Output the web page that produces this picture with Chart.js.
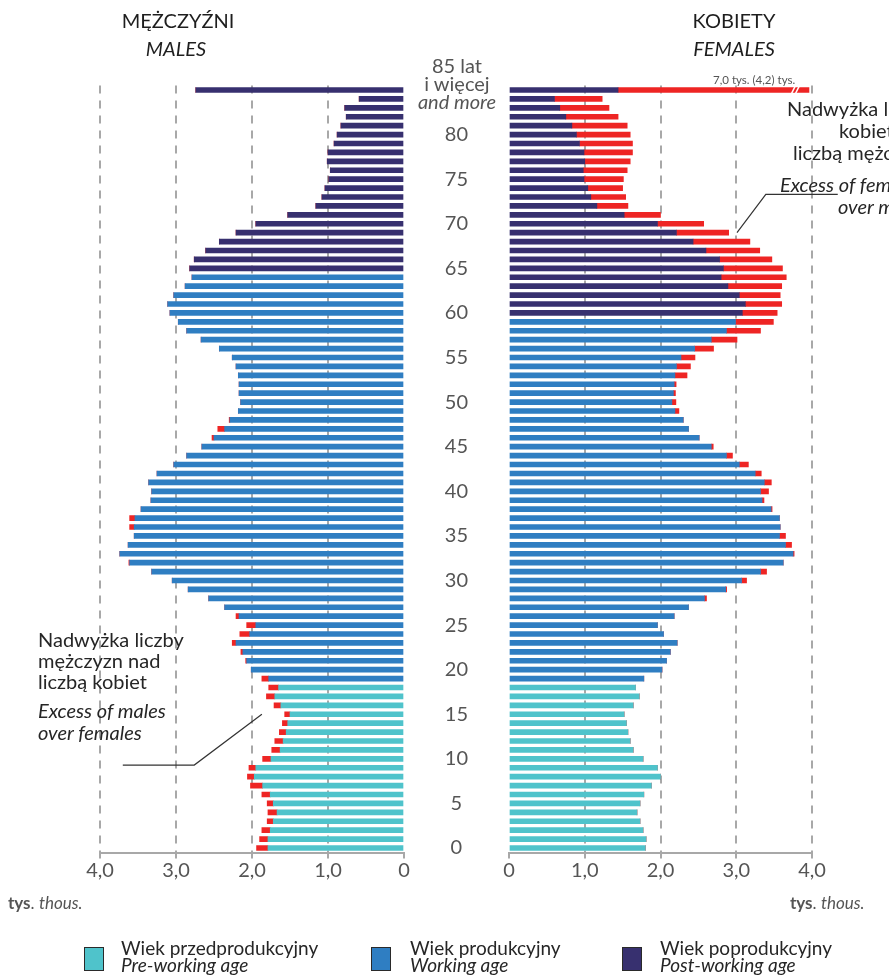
<!DOCTYPE html>
<html>
<head>
<meta charset="utf-8">
<script src="https://cdn.jsdelivr.net/npm/chart.js@4.4.1/dist/chart.umd.min.js"></script>
<style>
  body { margin: 0; background: #fff; font-family: Lato, sans-serif; color: #222; }
  #wrap { position: relative; width: 889px; height: 976px; overflow: hidden; background: #fff; }
  canvas { position: absolute; left: 0; top: 0; }
  .t { position: absolute; white-space: nowrap; }
  .title { width: 200px; text-align: center; font-size: 20px; line-height: 24px; color: #1e1e1e; }
  .note { font-size: 20px; line-height: 22px; color: #262626; }
  .age { width: 100px; text-align: center; font-size: 20px; line-height: 18px; color: #555; }
  .unit { font-size: 17px; line-height: 20px; color: #555; }
  .leg { font-size: 19px; line-height: 17px; color: #262626; }
  .sw { position: absolute; width: 18px; height: 22px; border: 1.5px solid #2a2a2a; }
</style>
</head>
<body>
<div id="wrap">
  <canvas id="males" width="889" height="976"></canvas>
  <canvas id="females" width="889" height="976"></canvas>

  <div class="t title" style="left:78px;top:8px">MĘŻCZYŹNI</div>
  <div class="t title" style="left:76px;top:36px"><i>MALES</i></div>
  <div class="t title" style="left:634px;top:8px">KOBIETY</div>
  <div class="t title" style="left:634px;top:36px"><i>FEMALES</i></div>

  <div class="t age" style="left:407px;top:56px">85 lat</div>
  <div class="t age" style="left:407px;top:74px">i więcej</div>
  <div class="t age" style="left:407px;top:92px"><i>and more</i></div>

  <div class="t" style="left:713px;top:73px;font-size:11.5px;color:#555">7,0 tys. (4,2) tys.</div>

  <div class="t note" style="left:787px;top:97px">Nadwyżka liczby</div>
  <div class="t note" style="left:839px;top:119px">kobiet nad</div>
  <div class="t note" style="left:793px;top:141px">liczbą mężczyzn</div>
  <div class="t note" style="left:780px;top:173px"><i>Excess of females</i></div>
  <div class="t note" style="left:838px;top:195px"><i>over males</i></div>

  <div class="t note" style="left:38px;top:628px">Nadwyżka liczby</div>
  <div class="t note" style="left:38px;top:649px">mężczyzn nad</div>
  <div class="t note" style="left:38px;top:670px">liczbą kobiet</div>
  <div class="t note" style="left:38px;top:699px"><i>Excess of males</i></div>
  <div class="t note" style="left:38px;top:721px"><i>over females</i></div>

  <div class="t unit" style="left:8px;top:893px"><b>tys</b>. <i>thous.</i></div>
  <div class="t unit" style="left:790px;top:893px"><b>tys</b>. <i>thous.</i></div>

  <div class="sw" style="left:84px;top:947px;background:#4fc3cb"></div>
  <div class="t leg" style="left:121px;top:939px">Wiek przedprodukcyjny<br><i>Pre-working age</i></div>
  <div class="sw" style="left:371px;top:947px;background:#2f7ec2"></div>
  <div class="t leg" style="left:410px;top:939px">Wiek produkcyjny<br><i>Working age</i></div>
  <div class="sw" style="left:622px;top:947px;background:#37306f"></div>
  <div class="t leg" style="left:660px;top:939px">Wiek poprodukcyjny<br><i>Post-working age</i></div>
</div>

<script>
// ages 0 .. 85 (85 = 85 and more), values in thousands
var ages = [0, 1, 2, 3, 4, 5, 6, 7, 8, 9, 10, 11, 12, 13, 14, 15, 16, 17, 18, 19,
  20, 21, 22, 23, 24, 25, 26, 27, 28, 29, 30, 31, 32, 33, 34, 35, 36, 37, 38, 39,
  40, 41, 42, 43, 44, 45, 46, 47, 48, 49, 50, 51, 52, 53, 54, 55, 56, 57, 58, 59,
  60, 61, 62, 63, 64, 65, 66, 67, 68, 69, 70, 71, 72, 73, 74, 75, 76, 77, 78, 79,
  80, 81, 82, 83, 84, 85];

var maleBase = [1.79, 1.79, 1.76, 1.72, 1.67, 1.72, 1.76, 1.86, 1.97, 1.95,
  1.75, 1.63, 1.59, 1.55, 1.53, 1.50, 1.62, 1.70, 1.65, 1.78,
  2.01, 2.07, 2.12, 2.21, 2.03, 1.95, 2.17, 2.36, 2.57, 2.84,
  3.05, 3.32, 3.61, 3.74, 3.63, 3.55, 3.55, 3.54, 3.46, 3.33,
  3.32, 3.36, 3.25, 3.03, 2.86, 2.66, 2.50, 2.36, 2.29, 2.18,
  2.15, 2.17, 2.17, 2.18, 2.21, 2.26, 2.43, 2.67, 2.86, 2.97,
  3.08, 3.11, 3.03, 2.88, 2.79, 2.82, 2.76, 2.61, 2.43, 2.21,
  1.95, 1.53, 1.16, 1.08, 1.04, 0.99, 0.97, 1.01, 1.00, 0.92,
  0.88, 0.83, 0.76, 0.78, 0.59, 2.74];

var maleExcess = [0.15, 0.11, 0.11, 0.08, 0.12, 0.08, 0.11, 0.16, 0.09, 0.09,
  0.11, 0.11, 0.11, 0.09, 0.07, 0.07, 0.09, 0.11, 0.13, 0.09,
  0, 0.013, 0.026, 0.05, 0.13, 0.12, 0.04, 0, 0, 0,
  0, 0, 0.01, 0, 0, 0, 0.06, 0.07, 0, 0,
  0, 0, 0, 0, 0, 0, 0.026, 0.09, 0.01, 0,
  0, 0, 0, 0, 0, 0, 0, 0, 0, 0,
  0, 0, 0, 0, 0, 0, 0, 0, 0, 0,
  0, 0, 0, 0, 0, 0, 0, 0, 0, 0,
  0, 0, 0, 0, 0, 0];

var femaleBase = [1.80, 1.81, 1.77, 1.73, 1.69, 1.73, 1.78, 1.88, 2.00, 1.96,
  1.77, 1.64, 1.60, 1.57, 1.55, 1.52, 1.64, 1.72, 1.67, 1.78,
  2.02, 2.08, 2.13, 2.22, 2.04, 1.96, 2.18, 2.37, 2.58, 2.86,
  3.07, 3.32, 3.62, 3.75, 3.65, 3.57, 3.58, 3.57, 3.46, 3.34,
  3.32, 3.37, 3.25, 3.04, 2.87, 2.67, 2.51, 2.37, 2.30, 2.19,
  2.15, 2.17, 2.18, 2.19, 2.21, 2.27, 2.45, 2.67, 2.87, 2.99,
  3.08, 3.12, 3.04, 2.89, 2.80, 2.83, 2.78, 2.60, 2.43, 2.21,
  1.96, 1.52, 1.16, 1.08, 1.04, 0.99, 0.98, 1.00, 0.99, 0.93,
  0.89, 0.83, 0.75, 0.67, 0.60, 1.44];

var femaleExcess = [0, 0, 0, 0, 0, 0, 0, 0, 0, 0,
  0, 0, 0, 0, 0, 0, 0, 0, 0, 0,
  0, 0, 0, 0, 0, 0, 0, 0, 0.027, 0.013,
  0.066, 0.08, 0, 0.014, 0.08, 0.08, 0, 0, 0.013, 0.026,
  0.106, 0.093, 0.08, 0.12, 0.08, 0.026, 0, 0, 0, 0.053,
  0.053, 0.027, 0.026, 0.16, 0.185, 0.185, 0.25, 0.34, 0.45, 0.50,
  0.46, 0.48, 0.54, 0.71, 0.86, 0.78, 0.69, 0.71, 0.75, 0.69,
  0.61, 0.48, 0.41, 0.46, 0.46, 0.52, 0.58, 0.60, 0.64, 0.70,
  0.71, 0.73, 0.69, 0.65, 0.63, 2.52];

var PRE_WORKING_MAX = 18;
var MALE_WORKING_MAX = 64;
var FEMALE_WORKING_MAX = 59;

var TEAL = '#4fc3cb';
var BLUE = '#2f7ec2';
var NAVY = '#37306f';
var RED = '#ee2524';
var GRID = '#a8a8a8';

function groupColors(workingMax) {
  return ages.map(function (a) {
    if (a <= PRE_WORKING_MAX) return TEAL;
    if (a <= workingMax) return BLUE;
    return NAVY;
  });
}

function tickText(v) {
  return v === 0 ? '0' : v.toFixed(1).replace('.', ',');
}

// leader lines and the break on the 85+ bar
function drawLeader(chart, pts) {
  var ctx = chart.ctx, xs = chart.scales.x, ys = chart.scales.y;
  ctx.save();
  ctx.strokeStyle = '#333';
  ctx.lineWidth = 1.2;
  ctx.beginPath();
  pts.forEach(function (p, i) {
    var px = xs.getPixelForValue(p[0]), py = ys.getPixelForValue(p[1]);
    if (i === 0) ctx.moveTo(px, py); else ctx.lineTo(px, py);
  });
  ctx.stroke();
  ctx.restore();
}

var maleNotes = {
  id: 'maleNotes',
  afterDatasetsDraw: function (chart) {
    drawLeader(chart, [[3.70, 9.3], [2.76, 9.3], [1.87, 15.0]]);
  }
};

var femaleNotes = {
  id: 'femaleNotes',
  afterDatasetsDraw: function (chart) {
    drawLeader(chart, [[3.01, 69.0], [3.39, 73.3], [4.34, 73.3]]);
    var ctx = chart.ctx;
    var bx = chart.scales.x.getPixelForValue(3.78);
    var by = chart.scales.y.getPixelForValue(85);
    ctx.save();
    ctx.strokeStyle = '#fff';
    ctx.lineWidth = 1.5;
    [-2, 2].forEach(function (o) {
      ctx.beginPath();
      ctx.moveTo(bx + o - 2, by + 4);
      ctx.lineTo(bx + o + 2, by - 4);
      ctx.stroke();
    });
    ctx.restore();
  }
};

function makePyramid(id, base, excess, workingMax, isMale, notes) {
  return new Chart(document.getElementById(id), {
    type: 'bar',
    data: {
      labels: ages,
      datasets: [
        { data: base, backgroundColor: groupColors(workingMax), barThickness: 5 },
        { data: excess, backgroundColor: RED, barThickness: 5 }
      ]
    },
    options: {
      indexAxis: 'y',
      responsive: false,
      animation: false,
      layout: {
        padding: isMale
          ? { left: 100, right: 485, top: 85.5, bottom: 83.5 }
          : { left: 404, right: 77, top: 85.5, bottom: 83.5 }
      },
      plugins: { legend: { display: false }, tooltip: { enabled: false } },
      scales: {
        x: {
          stacked: true,
          min: 0,
          max: 4,
          reverse: isMale,
          ticks: {
            stepSize: 1,
            padding: 0,
            color: '#555',
            font: { family: 'Lato', size: 20 },
            callback: tickText
          },
          grid: {
            color: function (c) { return c.tick && c.tick.value === 0 ? 'rgba(0,0,0,0)' : GRID; },
            lineWidth: 2,
            tickLength: 6,
            tickColor: GRID,
            tickWidth: 2
          },
          border: { display: true, color: GRID, width: 2, dash: [8, 7] },
          afterFit: function (s) { s.height = 40; }
        },
        y: {
          stacked: true,
          reverse: true,
          display: !isMale,
          grid: { display: false, drawTicks: false },
          border: { display: false },
          ticks: {
            autoSkip: false,
            crossAlign: 'center',
            padding: 41,
            color: '#555',
            font: { family: 'Lato', size: 20 },
            callback: function (v, i) {
              return (ages[i] % 5 === 0 && ages[i] < 85) ? String(ages[i]) : '';
            }
          },
          afterFit: function (s) { s.width = isMale ? 0 : 105; }
        }
      }
    },
    plugins: [notes]
  });
}

makePyramid('males', maleBase, maleExcess, MALE_WORKING_MAX, true, maleNotes);
makePyramid('females', femaleBase, femaleExcess, FEMALE_WORKING_MAX, false, femaleNotes);
</script>
</body>
</html>
